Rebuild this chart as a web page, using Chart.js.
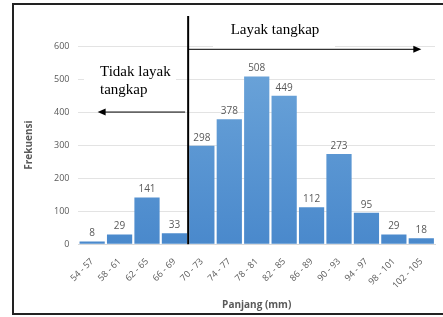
<!DOCTYPE html>
<html>
<head>
<meta charset="utf-8">
<script src="https://cdn.jsdelivr.net/npm/chart.js@4.4.0/dist/chart.umd.min.js"></script>
<style>
  html, body { margin: 0; padding: 0; background: #fff; }
  #wrap { width: 443px; height: 317px; }
</style>
</head>
<body>
<div id="wrap"><canvas id="c" width="443" height="317"></canvas></div>
<script>
// Panjang (mm) classes and their frequencies
var categories = ['54 - 57', '58 - 61', '62 - 65', '66 - 69', '70 - 73', '74 - 77', '78 - 81',
                  '82 - 85', '86 - 89', '90 - 93', '94 - 97', '98 - 101', '102 - 105'];
var frekuensi = [8, 29, 141, 33, 298, 378, 508, 449, 112, 273, 95, 29, 18];
var yTicks = [0, 100, 200, 300, 400, 500, 600];

var serif = '"Liberation Serif", "DejaVu Serif", serif';
var sans = '"Open Sans", "Noto Sans", sans-serif';

// frame, value labels and the layak / tidak layak annotation
var overlay = {
  id: 'overlay',
  beforeDraw: function(chart) {
    var ctx = chart.ctx;
    ctx.save();
    ctx.fillStyle = '#fff';
    ctx.fillRect(0, 0, chart.width, chart.height);
    ctx.restore();
  },
  afterDatasetsDraw: function(chart) {
    var ctx = chart.ctx;
    var meta = chart.getDatasetMeta(0);
    ctx.save();
    ctx.font = '10px ' + sans;
    ctx.fillStyle = '#595959';
    ctx.textAlign = 'center';
    ctx.textBaseline = 'bottom';
    meta.data.forEach(function(bar, i) {
      ctx.fillText(frekuensi[i], bar.x, bar.y - 3);
    });
    ctx.restore();
  },
  afterDraw: function(chart) {
    var ctx = chart.ctx;
    var x = chart.scales.x, y = chart.scales.y;
    var split = x.getPixelForValue(3.5);
    ctx.save();

    // white boxes behind the texts
    ctx.fillStyle = '#fff';
    ctx.fillRect(213, 16, 122, 31);
    ctx.fillRect(84, 60, 92, 44);

    ctx.strokeStyle = '#000';
    ctx.fillStyle = '#000';
    // vertical split line
    ctx.lineWidth = 2;
    ctx.beginPath();
    ctx.moveTo(split, 16);
    ctx.lineTo(split, y.getPixelForValue(0));
    ctx.stroke();

    // right arrow
    ctx.lineWidth = 1;
    var ya = y.getPixelForValue(590);
    var xe = x.getPixelForValue(12.0);
    ctx.beginPath();
    ctx.moveTo(split, ya);
    ctx.lineTo(xe - 7, ya);
    ctx.stroke();
    ctx.beginPath();
    ctx.moveTo(xe, ya);
    ctx.lineTo(xe - 8, ya - 3.5);
    ctx.lineTo(xe - 8, ya + 3.5);
    ctx.closePath();
    ctx.fill();

    // left arrow
    var yb = y.getPixelForValue(400);
    var xs = x.getPixelForValue(0.2);
    ctx.beginPath();
    ctx.moveTo(split - 3, yb);
    ctx.lineTo(xs + 7, yb);
    ctx.stroke();
    ctx.beginPath();
    ctx.moveTo(xs, yb);
    ctx.lineTo(xs + 8, yb - 3.5);
    ctx.lineTo(xs + 8, yb + 3.5);
    ctx.closePath();
    ctx.fill();

    // texts
    ctx.font = '15px ' + serif;
    ctx.textBaseline = 'middle';
    ctx.textAlign = 'center';
    ctx.fillText('Layak tangkap', 275, 30);
    ctx.textAlign = 'left';
    ctx.fillText('Tidak layak', 100, 72);
    ctx.fillText('tangkap', 100, 90);

    // outer frame
    ctx.lineWidth = 2;
    ctx.strokeStyle = '#222';
    ctx.strokeRect(13, 4, 440, 310);
    ctx.restore();
  }
};

new Chart(document.getElementById('c'), {
  type: 'bar',
  data: {
    labels: categories,
    datasets: [{
      data: frekuensi,
      backgroundColor: function(context) {
        var chart = context.chart;
        var area = chart.chartArea;
        if (!area) return '#5b9bd5';
        var g = chart.ctx.createLinearGradient(0, area.top, 0, area.bottom);
        g.addColorStop(0, '#6ea6da');
        g.addColorStop(1, '#4a89cc');
        return g;
      },
      barPercentage: 0.92,
      categoryPercentage: 1.0
    }]
  },
  options: {
    responsive: false,
    animation: false,
    devicePixelRatio: 1,
    layout: { padding: { left: 23, right: 8, top: 46, bottom: 6 } },
    plugins: {
      legend: { display: false },
      tooltip: { enabled: false },
      title: { display: false }
    },
    scales: {
      x: {
        grid: { display: false },
        border: { color: '#d9d9d9' },
        ticks: {
          color: '#595959',
          font: { family: sans, size: 9 },
          maxRotation: 45,
          minRotation: 45,
          autoSkip: false,
          padding: 4
        },
        title: {
          display: true,
          text: 'Panjang (mm)',
          color: '#595959',
          font: { family: sans, size: 10, weight: 'bold' },
          padding: { top: 4, bottom: 0 }
        }
      },
      y: {
        min: 0,
        max: 600,
        afterBuildTicks: function(axis) {
          axis.ticks = yTicks.map(function(v) { return { value: v }; });
        },
        grid: { color: '#e3e3e3', drawTicks: false },
        border: { display: false },
        ticks: {
          color: '#595959',
          font: { family: sans, size: 9 },
          padding: 9
        },
        title: {
          display: true,
          text: 'Frekuensi',
          color: '#595959',
          font: { family: sans, size: 10, weight: 'bold' },
          padding: { top: 0, bottom: 10 }
        }
      }
    }
  },
  plugins: [overlay]
});
</script>
</body>
</html>
